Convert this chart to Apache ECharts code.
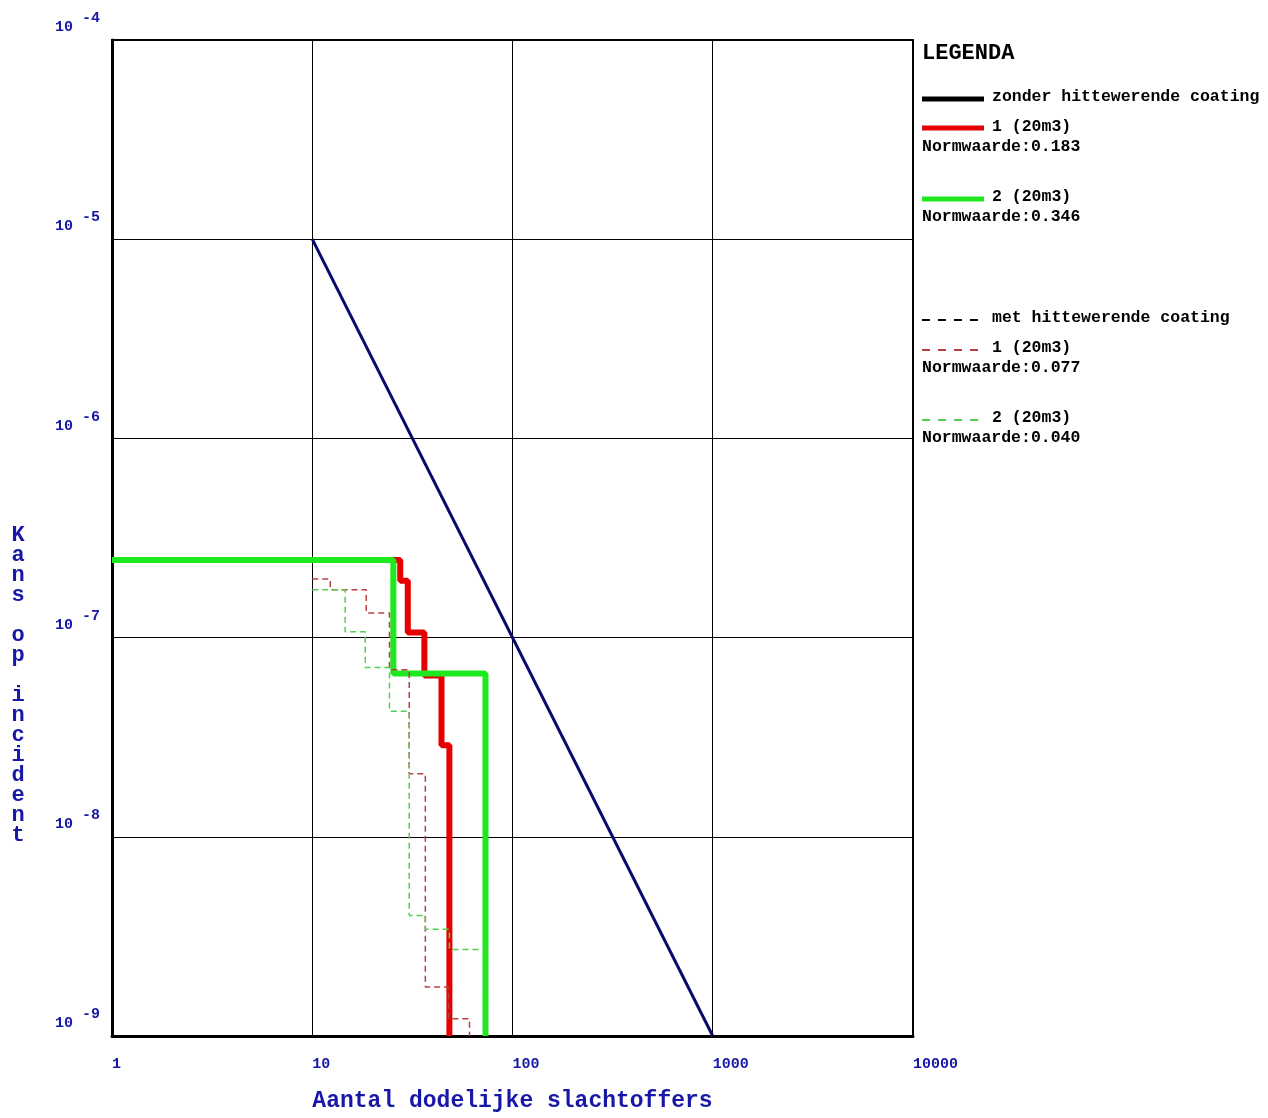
<!DOCTYPE html>
<html>
<head>
<meta charset="utf-8">
<script src="https://cdn.jsdelivr.net/npm/echarts@6/dist/echarts.min.js"></script>
<style>
  html, body { margin: 0; padding: 0; background: #fff; }
  #chart { width: 1268px; height: 1118px; }
</style>
</head>
<body>
<div id="chart"></div>
<script>
// FN-curve: aantal slachtoffers (N) tegen kans op incident
var xTicks = [1, 10, 100, 1000, 10000];

// norm-lijn
var normLijn = [[10, 1e-5], [1000, 1e-9]];

// zonder hittewerende coating (trapfuncties, step: 'end')
var zonder1 = [[1, 2.45e-7], [27.5, 1.93e-7], [30, 1.06e-7], [36.3, 6.45e-8], [44.2, 2.88e-8], [48.4, 1e-9]];
var zonder2 = [[1, 2.45e-7], [25.4, 6.6e-8], [73.3, 1e-9]];

// met hittewerende coating
var met1 = [[10, 1.97e-7], [12.3, 1.74e-7], [18.6, 1.33e-7], [24.3, 6.9e-8], [30.5, 2.07e-8], [36.7, 1.76e-9], [47.9, 1.22e-9], [61, 1e-9]];
var met2 = [[10, 1.74e-7], [14.6, 1.07e-7], [18.4, 7.08e-8], [24.3, 4.27e-8], [30.5, 4.03e-9], [36.7, 3.43e-9], [48.4, 2.72e-9], [73.3, 1e-9]];

var normwaarden = ['0.183', '0.346', '0.077', '0.040'];

var BLUE = '#1818a8';
var MONO = '"Liberation Mono", "DejaVu Sans Mono", monospace';
var RED = '#e60000', GREEN = '#1ee81e';
var RED_D = '#b84040', GREEN_D = '#50d050';

var chart = echarts.init(document.getElementById('chart'));

// legenda rechts
function legendLine(y, color, dashed) {
  return {
    type: 'line',
    shape: { x1: 922, y1: y, x2: dashed ? 978 : 984, y2: y },
    style: dashed ? { stroke: color, lineWidth: 2, lineDash: [8, 8] } : { stroke: color, lineWidth: 5 }
  };
}
function legendText(x, y, text) {
  return {
    type: 'text', x: x, y: y,
    style: { text: text, font: 'bold 16.5px ' + MONO, fill: '#000', verticalAlign: 'middle' }
  };
}

var graphic = [
  { type: 'text', x: 922, y: 53, style: { text: 'LEGENDA', font: 'bold 22px ' + MONO, fill: '#000', verticalAlign: 'middle' } },
  legendLine(99, '#000', false), legendText(992, 97, 'zonder hittewerende coating'),
  legendLine(128, RED, false), legendText(992, 127, '1 (20m3)'), legendText(922, 147, 'Normwaarde:' + normwaarden[0]),
  legendLine(199, GREEN, false), legendText(992, 197, '2 (20m3)'), legendText(922, 217, 'Normwaarde:' + normwaarden[1]),
  legendLine(320, '#000', true), legendText(992, 318, 'met hittewerende coating'),
  legendLine(350, RED_D, true), legendText(992, 348, '1 (20m3)'), legendText(922, 368, 'Normwaarde:' + normwaarden[2]),
  legendLine(420, GREEN_D, true), legendText(992, 418, '2 (20m3)'), legendText(922, 438, 'Normwaarde:' + normwaarden[3]),
  // y-as titel, letters onder elkaar
  {
    type: 'text', x: 18, y: 525,
    style: {
      text: 'Kans op incident'.split('').join('\n'),
      font: 'bold 22px ' + MONO, fill: BLUE, align: 'center', lineHeight: 20
    }
  }
];

var option = {
  animation: false,
  backgroundColor: '#fff',
  grid: { left: 112, top: 40, width: 801, height: 1000, show: true, borderColor: '#000', borderWidth: 2 },
  xAxis: {
    type: 'log', logBase: 10, min: xTicks[0], max: xTicks[xTicks.length - 1],
    name: 'Aantal dodelijke slachtoffers', nameLocation: 'middle', nameGap: 54,
    nameTextStyle: { color: BLUE, fontFamily: MONO, fontWeight: 'bold', fontSize: 23 },
    axisLine: { lineStyle: { color: '#000', width: 3 } },
    axisTick: { show: false },
    splitLine: { show: true, lineStyle: { color: '#000', width: 1 } },
    axisLabel: {
      color: BLUE, fontFamily: MONO, fontWeight: 'bold', fontSize: 15, margin: 21, align: 'left',
      formatter: function (v) { return String(Math.round(v)); }
    }
  },
  yAxis: {
    type: 'log', logBase: 10, min: 1e-9, max: 1e-4,
    axisLine: { lineStyle: { color: '#000', width: 3 } },
    axisTick: { show: false },
    splitLine: { show: true, lineStyle: { color: '#000', width: 1 } },
    axisLabel: {
      margin: 12, align: 'right', verticalAlign: 'bottom',
      formatter: function (v) {
        var e = Math.round(Math.log(v) / Math.LN10);
        return '{b|10 }{s|' + e + '}';
      },
      rich: {
        b: { color: BLUE, fontFamily: MONO, fontWeight: 'bold', fontSize: 15, lineHeight: 15, verticalAlign: 'bottom', padding: [0, 0, 5, 0] },
        s: { color: BLUE, fontFamily: MONO, fontWeight: 'bold', fontSize: 15, lineHeight: 15, verticalAlign: 'bottom', padding: [0, 0, 14, 0] }
      }
    }
  },
  graphic: graphic,
  series: [
    { type: 'line', data: zonder1, step: 'end', showSymbol: false, lineStyle: { color: RED, width: 6 } },
    { type: 'line', data: zonder2, step: 'end', showSymbol: false, lineStyle: { color: GREEN, width: 6 } },
    { type: 'line', data: met1, step: 'end', showSymbol: false, lineStyle: { color: RED_D, width: 1.5, type: [6, 4] } },
    { type: 'line', data: met2, step: 'end', showSymbol: false, lineStyle: { color: GREEN_D, width: 1.5, type: [6, 4] } },
    { type: 'line', data: normLijn, showSymbol: false, lineStyle: { color: '#0a0a6b', width: 3 } }
  ]
};

chart.setOption(option);
</script>
</body>
</html>
